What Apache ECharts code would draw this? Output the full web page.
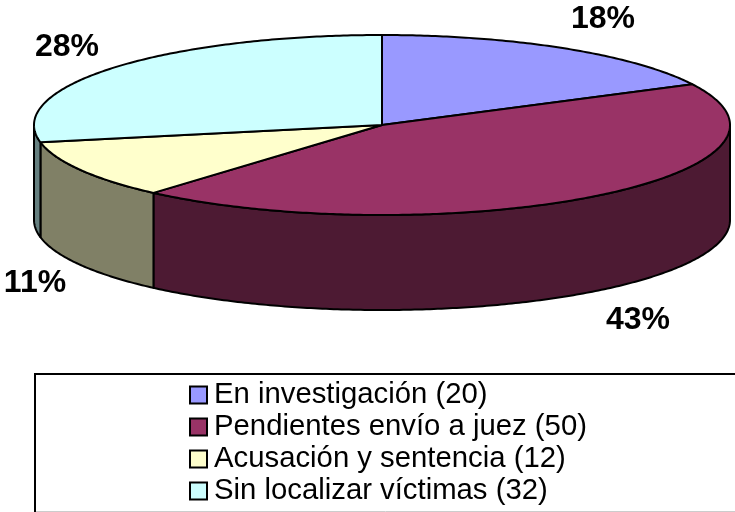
<!DOCTYPE html>
<html>
<head>
<meta charset="utf-8">
<title>Pie</title>
<style>
html, body { margin: 0; padding: 0; background: #fff; }
#chart { width: 735px; height: 512px; }
</style>
<script src="https://cdn.jsdelivr.net/npm/echarts@6/dist/echarts.min.js"></script>
</head>
<body>
<div id="chart"></div>
<script>
var categories = ['En investigación (20)', 'Pendientes envío a juez (50)', 'Acusación y sentencia (12)', 'Sin localizar víctimas (32)'];
var values = [20, 50, 12, 32];
var percentLabels = ['18%', '43%', '11%', '28%'];
var topColors = ['#9999ff', '#993366', '#ffffcc', '#ccffff'];
var sideColors = ['#4d4d80', '#4d1a33', '#808066', '#668080'];
var labelPos = [[603, 19], [638, 320], [35, 283], [67, 47]];

var cx = 382, cy = 125, rx = 348, ry = 90, depth = 95;
var total = values.reduce(function (a, b) { return a + b; }, 0);

function pt(t, dy) {
	return [cx + rx * Math.sin(t), cy - ry * Math.cos(t) + (dy || 0)];
}

function arc(a, b, dy) {
	var pts = [];
	var n = Math.max(2, Math.ceil((b - a) * 90));
	for (var i = 0; i <= n; i++) {
		pts.push(pt(a + (b - a) * i / n, dy));
	}
	return pts;
}

var lineStyle = { stroke: '#000', lineWidth: 2, lineJoin: 'round' };

function sliceAngles(idx) {
	var sum = 0;
	for (var i = 0; i < idx; i++) sum += values[i];
	return [sum / total * Math.PI * 2, (sum + values[idx]) / total * Math.PI * 2];
}

// 只有前半部分的弧才画侧面
function renderSlice(idx) {
	return function () {
		var ang = sliceAngles(idx);
		var children = [];
		var a = Math.max(ang[0], Math.PI / 2), b = Math.min(ang[1], Math.PI * 1.5);
		if (b > a) {
			var front = arc(a, b, 0);
			var back = arc(a, b, depth).reverse();
			children.push({
				type: 'polygon',
				shape: { points: front.concat(back) },
				style: Object.assign({ fill: sideColors[idx] }, lineStyle)
			});
		}
		children.push({
			type: 'polygon',
			shape: { points: [[cx, cy]].concat(arc(ang[0], ang[1], 0)) },
			style: Object.assign({ fill: topColors[idx] }, lineStyle)
		});
		children.push({
			type: 'text',
			style: {
				text: percentLabels[idx],
				x: labelPos[idx][0],
				y: labelPos[idx][1],
				fill: '#000',
				font: 'bold 32px "Liberation Sans"',
				align: 'center',
				verticalAlign: 'middle'
			}
		});
		return { type: 'group', children: children };
	};
}

var series = categories.map(function (name, i) {
	return {
		name: name,
		type: 'custom',
		coordinateSystem: 'none',
		data: [values[i]],
		itemStyle: { color: topColors[i] },
		silent: true,
		animation: false,
		renderItem: renderSlice(i)
	};
});

var chart = echarts.init(document.getElementById('chart'));
chart.setOption({
	animation: false,
	graphic: [{
		type: 'polyline',
		z: -1,
		shape: { points: [[35, 512], [35, 374], [735, 374]] },
		style: { fill: null, stroke: '#000', lineWidth: 2 }
	}, {
		type: 'line',
		z: -1,
		shape: { x1: 36, y1: 511.5, x2: 735, y2: 511.5 },
		style: { stroke: '#ccc', lineWidth: 1 }
	}],
	legend: {
		orient: 'vertical',
		left: 189,
		top: 379,
		padding: 0,
		itemWidth: 17,
		itemHeight: 17,
		itemGap: 0,
		icon: 'rect',
		data: categories.map(function (name) {
			return { name: name, itemStyle: { borderColor: '#000', borderWidth: 2 } };
		}),
		selectedMode: false,
		textStyle: { fontFamily: 'Liberation Sans', fontSize: 29.3, lineHeight: 32, color: '#000', padding: [0, 0, 0, 2] }
	},
	series: series
});
</script>
</body>
</html>
